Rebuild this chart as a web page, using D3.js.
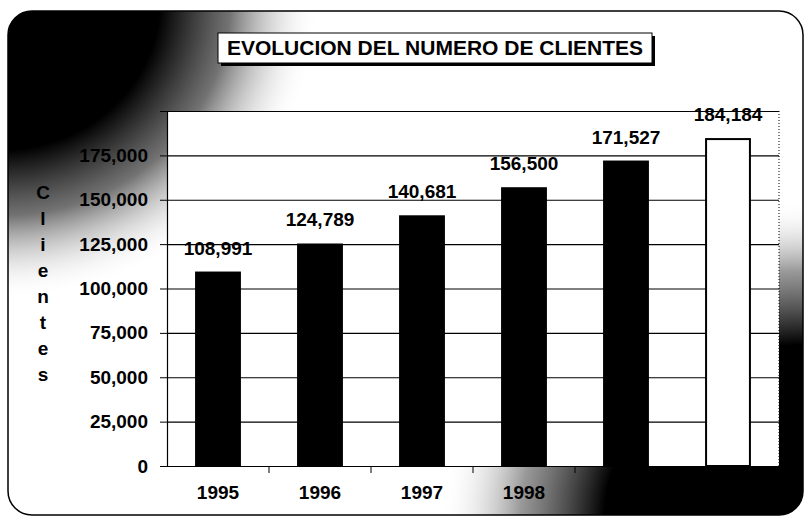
<!DOCTYPE html>
<html>
<head>
<meta charset="utf-8">
<script src="https://cdn.jsdelivr.net/npm/d3@7"></script>
<style>
  body { margin: 0; background: #fff; }
  svg text { font-family: "Liberation Sans", Arial, sans-serif; font-weight: bold; }
</style>
</head>
<body>
<svg width="805" height="522"></svg>
<script>
// Data
var years = ["1995", "1996", "1997", "1998", "1999", "2000"];
var clientes = [108991, 124789, 140681, 156500, 171527, 184184];
var barColors = ["#000", "#000", "#000", "#000", "#000", "#fff"];
var yTicks = [0, 25000, 50000, 75000, 100000, 125000, 150000, 175000];
var title = "EVOLUCION DEL NUMERO DE CLIENTES";
var yTitle = "Clientes";

var svg = d3.select("svg"),
    width = +svg.attr("width"),
    height = +svg.attr("height");

var plot = {left: 167, top: 111, right: 779, bottom: 466};

// Dark scanned corners
var defs = svg.append("defs");
var g1 = defs.append("radialGradient").attr("id", "tl")
    .attr("cx", 0).attr("cy", 0).attr("r", 1)
    .attr("gradientUnits", "objectBoundingBox");
g1.append("stop").attr("offset", "0%").attr("stop-color", "#000").attr("stop-opacity", 1);
g1.append("stop").attr("offset", "50%").attr("stop-color", "#000").attr("stop-opacity", 1);
g1.append("stop").attr("offset", "72%").attr("stop-color", "#444").attr("stop-opacity", 0.75);
g1.append("stop").attr("offset", "100%").attr("stop-color", "#fff").attr("stop-opacity", 0);

var g2 = defs.append("radialGradient").attr("id", "br")
    .attr("cx", 1).attr("cy", 1).attr("r", 1)
    .attr("gradientUnits", "objectBoundingBox");
g2.append("stop").attr("offset", "0%").attr("stop-color", "#000").attr("stop-opacity", 1);
g2.append("stop").attr("offset", "55%").attr("stop-color", "#000").attr("stop-opacity", 1);
g2.append("stop").attr("offset", "78%").attr("stop-color", "#555").attr("stop-opacity", 0.6);
g2.append("stop").attr("offset", "100%").attr("stop-color", "#fff").attr("stop-opacity", 0);

var clip = defs.append("clipPath").attr("id", "frameClip");
clip.append("rect").attr("x", 8).attr("y", 11).attr("width", 795).attr("height", 504).attr("rx", 24);

var bg = svg.append("g").attr("clip-path", "url(#frameClip)");
bg.append("rect").attr("x", 0).attr("y", 0).attr("width", 320).attr("height", 300).attr("fill", "url(#tl)");
bg.append("rect").attr("x", 440).attr("y", 200).attr("width", 365).attr("height", 322).attr("fill", "url(#br)");

// Frame
svg.append("rect")
    .attr("x", 8).attr("y", 11)
    .attr("width", 795).attr("height", 504)
    .attr("rx", 24)
    .attr("fill", "none")
    .attr("stroke", "#000")
    .attr("stroke-width", 1.5);

// Scales
var x = d3.scaleBand()
    .domain(years)
    .range([plot.left, plot.right])
    .paddingInner(0.57)
    .paddingOuter(0.285);

var y = d3.scaleLinear()
    .domain([0, 200000])
    .range([plot.bottom, plot.top]);

// Plot area
svg.append("rect")
    .attr("x", plot.left).attr("y", plot.top)
    .attr("width", plot.right - plot.left).attr("height", plot.bottom - plot.top)
    .attr("fill", "#fff");

// Gridlines
svg.append("g")
    .selectAll("line")
    .data(yTicks.concat([200000]))
    .enter().append("line")
    .attr("x1", plot.left).attr("x2", plot.right)
    .attr("y1", function(d) { return y(d) + 0.5; })
    .attr("y2", function(d) { return y(d) + 0.5; })
    .attr("stroke", "#000")
    .attr("stroke-width", 1.2);

// right border (dotted)
svg.append("line")
    .attr("x1", plot.right).attr("x2", plot.right)
    .attr("y1", plot.top).attr("y2", plot.bottom)
    .attr("stroke", "#000").attr("stroke-dasharray", "1,2");

// Y axis
var yAxis = d3.axisLeft(y)
    .tickValues(yTicks)
    .tickSize(7)
    .tickPadding(12)
    .tickFormat(d3.format(",d"));
var ya = svg.append("g")
    .attr("transform", "translate(" + plot.left + ",0)")
    .call(yAxis);
ya.select(".domain").attr("stroke-width", 1.2);
ya.selectAll("text").attr("font-size", 19).attr("fill", "#000")
    .style("font-family", "'Liberation Sans', Arial, sans-serif").style("font-weight", "bold");

// X axis
var xAxis = d3.axisBottom(x)
    .tickSize(0)
    .tickPadding(20);
var xa = svg.append("g")
    .attr("transform", "translate(0," + plot.bottom + ")")
    .call(xAxis);
xa.select(".domain").remove();
xa.selectAll("text").attr("font-size", 19).attr("fill", "#000")
    .style("font-family", "'Liberation Sans', Arial, sans-serif").style("font-weight", "bold");
// category separators below axis
svg.append("g")
    .selectAll("line")
    .data(years.slice(1))
    .enter().append("line")
    .attr("x1", function(d) { return x(d) - x.step() * x.paddingInner() / 2; })
    .attr("x2", function(d) { return x(d) - x.step() * x.paddingInner() / 2; })
    .attr("y1", plot.bottom).attr("y2", plot.bottom + 7)
    .attr("stroke", "#000");

// Bars
svg.append("g")
    .selectAll("rect")
    .data(years)
    .enter().append("rect")
    .attr("x", function(d) { return x(d); })
    .attr("y", function(d, i) { return y(clientes[i]); })
    .attr("width", x.bandwidth())
    .attr("height", function(d, i) { return plot.bottom - y(clientes[i]); })
    .attr("fill", function(d, i) { return barColors[i]; })
    .attr("stroke", "#000")
    .attr("stroke-width", 2);

// Value labels
svg.append("g")
    .selectAll("text")
    .data(years)
    .enter().append("text")
    .attr("x", function(d) { return x(d) + x.bandwidth() / 2; })
    .attr("y", function(d, i) { return y(clientes[i]) - 18; })
    .attr("text-anchor", "middle")
    .attr("font-size", 19)
    .text(function(d, i) { return d3.format(",d")(clientes[i]); });

// Y title, letters stacked
svg.append("g")
    .selectAll("text")
    .data(yTitle.split(""))
    .enter().append("text")
    .attr("x", 43)
    .attr("y", function(d, i) { return 199 + i * 26; })
    .attr("text-anchor", "middle")
    .attr("font-size", 19)
    .text(function(d) { return d; });

// Title box with shadow
svg.append("rect")
    .attr("x", 221).attr("y", 36).attr("width", 434).attr("height", 30)
    .attr("fill", "#000");
svg.append("rect")
    .attr("x", 218).attr("y", 33).attr("width", 434).attr("height", 30)
    .attr("fill", "#fff").attr("stroke", "#000").attr("stroke-width", 1);
svg.append("text")
    .attr("x", 435).attr("y", 55)
    .attr("text-anchor", "middle")
    .attr("font-size", 21)
    .text(title);
</script>
</body>
</html>
